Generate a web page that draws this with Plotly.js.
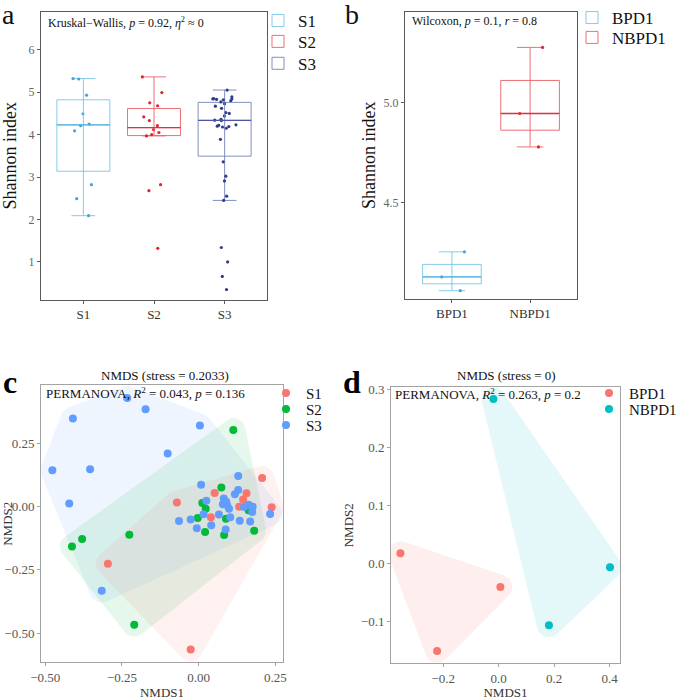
<!DOCTYPE html>
<html>
<head>
<meta charset="utf-8">
<script src="https://cdn.plot.ly/plotly-3.0.1.min.js"></script>
<style>
  html, body { margin: 0; padding: 0; background: #ffffff; }
  #chart { width: 687px; height: 700px; }
</style>
</head>
<body>
<div id="chart"></div>
<script>
// ---------- Shannon index per group (panel a) ----------
const groupsA = ['S1', 'S2', 'S3'];
const shannonS1 = [5.32, 5.31, 4.93, 4.49, 4.25, 4.21, 4.09, 2.82, 2.49, 2.09];
const shannonS2 = [5.36, 4.99, 4.75, 4.68, 4.42, 4.33, 4.21, 4.12, 4.05, 4.00, 3.97, 2.82, 2.68, 1.32];
const shannonS3 = [5.05, 4.89, 4.85, 4.84, 4.84, 4.83, 4.82, 4.80, 4.77, 4.73, 4.67, 4.62, 4.52, 4.50,
                   4.44, 4.36, 4.34, 4.33, 4.23, 4.22, 4.20, 4.19, 4.18, 4.15, 3.89, 3.36, 3.02, 2.91,
                   2.55, 2.45, 1.34, 1.00, 0.66, 0.35];

// ---------- Shannon index per group (panel b) ----------
const groupsB = ['BPD1', 'NBPD1'];
const shannonBPD1 = [4.254, 4.129, 4.060];
const shannonNBPD1 = [5.275, 4.945, 4.778];

// ---------- NMDS ordination of S1/S2/S3 (panel c) ----------
const nmdsS1x = [0.207, 0.052, 0.156, 0.145, -0.071, 0.132, 0.238, 0.040, -0.296, -0.026];
const nmdsS1y = [0.112, 0.053, 0.052, 0.027, 0.015, -0.001, -0.003, -0.043, -0.226, -0.565];
const nmdsS2x = [0.113, 0.074, 0.012, 0.023, -0.003, 0.089, 0.163, 0.021, 0.083, 0.181, -0.413, -0.380, -0.226, -0.210];
const nmdsS2y = [0.302, 0.075, 0.013, -0.009, -0.046, -0.049, -0.015, -0.101, -0.113, -0.096, -0.158, -0.129, -0.112, -0.467];
const nmdsS3x = [-0.233, -0.173, -0.410, 0.004, -0.101, -0.477, -0.354, 0.129, 0.008, 0.129,
                 0.118, 0.082, -0.422, 0.025, 0.079, 0.093, 0.163, 0.176, 0.099, 0.016,
                 0.103, 0.066, 0.175, 0.233, -0.064, -0.026, 0.134, 0.168, -0.006, 0.041,
                 0.088, 0.148, -0.316, 0.090];
const nmdsS3y = [0.428, 0.384, 0.347, 0.319, 0.209, 0.143, 0.147, 0.120, 0.086, 0.065,
                 0.048, 0.031, 0.011, 0.022, 0.009, 0.005, 0.007, -0.001, -0.009, -0.031,
                 -0.043, -0.032, -0.022, -0.030, -0.058, -0.052, -0.057, -0.060, -0.086, -0.074,
                 -0.091, -0.002, -0.333, 0.018];

// ---------- NMDS ordination of BPD1/NBPD1 (panel d) ----------
const nmdsBPD1x = [-0.354, -0.222, 0.006];
const nmdsBPD1y = [0.018, -0.150, -0.040];
const nmdsNBPD1x = [-0.019, 0.401, 0.181];
const nmdsNBPD1y = [0.283, -0.006, -0.106];

// ---------- page geometry ----------
const W = 687, H = 700;
const FONT = 'Liberation Serif, Times New Roman, serif';
const px2x = p => p / W;
const px2y = p => 1 - p / H;

// panel pixel boxes [left, top, right, bottom] and data ranges
const panels = {
  a: { box: [41, 9, 267, 298],  xr: [0.4, 3.6],      yr: [0.11, 6.89] },
  b: { box: [405, 9, 577, 297], xr: [0.4, 2.6],      yr: [4.02, 5.452] },
  c: { box: [41, 384, 283, 662], xr: [-0.514, 0.275], yr: [-0.615, 0.478] },
  d: { box: [391, 386, 620, 663], xr: [-0.388, 0.437], yr: [-0.171, 0.303] }
};

// R type-7 quantile
function quantile(sorted, p) {
  const h = (sorted.length - 1) * p;
  const lo = Math.floor(h), hi = Math.ceil(h);
  return sorted[lo] + (h - lo) * (sorted[hi] - sorted[lo]);
}
function boxStats(values) {
  const s = values.slice().sort((a, b) => a - b);
  const q1 = quantile(s, 0.25), med = quantile(s, 0.5), q3 = quantile(s, 0.75);
  const iqr = q3 - q1;
  const lf = Math.min(...s.filter(v => v >= q1 - 1.5 * iqr));
  const uf = Math.max(...s.filter(v => v <= q3 + 1.5 * iqr));
  return { q1, med, q3, lf, uf };
}

const traces = [];
const BOXW = 0.75;

function addBoxGroup(values, pos, name, col, xa, ya, legendId) {
  const st = boxStats(values);
  traces.push({
    type: 'box', x: [pos], q1: [st.q1], median: [st.med], q3: [st.q3],
    lowerfence: [st.lf], upperfence: [st.uf],
    width: BOXW, whiskerwidth: 0.45, boxpoints: false,
    line: { color: col.box, width: 1 }, fillcolor: 'rgba(255,255,255,0)',
    name: name, legend: legendId, xaxis: xa, yaxis: ya, hoverinfo: 'skip'
  });
  // whisker line continuing through the box
  traces.push({
    type: 'scatter', mode: 'lines', x: [pos, pos], y: [st.q1, st.q3],
    line: { color: col.box, width: 1 }, showlegend: false, hoverinfo: 'skip',
    xaxis: xa, yaxis: ya
  });
  // median bar
  traces.push({
    type: 'scatter', mode: 'lines', x: [pos - BOXW / 2, pos + BOXW / 2], y: [st.med, st.med],
    line: { color: col.median, width: 1.3 }, showlegend: false, hoverinfo: 'skip',
    xaxis: xa, yaxis: ya
  });
  // jittered samples
  traces.push({
    type: 'box', y: values, x0: pos, width: BOXW, boxpoints: 'all', jitter: 0.55, pointpos: 0,
    line: { width: 0, color: 'rgba(0,0,0,0)' }, fillcolor: 'rgba(0,0,0,0)',
    marker: { color: col.point, size: 3.2 }, showlegend: false, name: name,
    xaxis: xa, yaxis: ya
  });
}

const blueCol = { box: 'rgba(120,196,232,0.9)', median: '#55b2de', point: '#3fa6dc' };
const redCol  = { box: 'rgba(236,96,104,0.9)',  median: '#e0303c', point: '#e3232e' };
const navyCol = { box: 'rgba(118,130,186,0.9)', median: '#4a58a0', point: '#2f3d8e' };

addBoxGroup(shannonS1, 1, groupsA[0], blueCol, 'x', 'y', 'legend');
addBoxGroup(shannonS2, 2, groupsA[1], redCol,  'x', 'y', 'legend2');
addBoxGroup(shannonS3, 3, groupsA[2], navyCol, 'x', 'y', 'legend3');
addBoxGroup(shannonBPD1, 1, groupsB[0], blueCol, 'x2', 'y2', 'legend4');
addBoxGroup(shannonNBPD1, 2, groupsB[1], redCol, 'x2', 'y2', 'legend5');

// ---------- rounded, expanded convex hulls (computed in pixel space) ----------
function makeScale(p) {
  const [l, t, r, b] = p.box;
  return {
    toPx: (x, y) => [l + (x - p.xr[0]) / (p.xr[1] - p.xr[0]) * (r - l),
                     b - (y - p.yr[0]) / (p.yr[1] - p.yr[0]) * (b - t)],
    toData: (X, Y) => [p.xr[0] + (X - l) / (r - l) * (p.xr[1] - p.xr[0]),
                       p.yr[0] + (b - Y) / (b - t) * (p.yr[1] - p.yr[0])]
  };
}
function convexHull(pts) {
  const s = pts.slice().sort((a, b) => a[0] - b[0] || a[1] - b[1]);
  const cross = (o, a, b) => (a[0] - o[0]) * (b[1] - o[1]) - (a[1] - o[1]) * (b[0] - o[0]);
  const lower = [], upper = [];
  for (const p of s) {
    while (lower.length >= 2 && cross(lower[lower.length - 2], lower[lower.length - 1], p) <= 0) lower.pop();
    lower.push(p);
  }
  for (let i = s.length - 1; i >= 0; i--) {
    const p = s[i];
    while (upper.length >= 2 && cross(upper[upper.length - 2], upper[upper.length - 1], p) <= 0) upper.pop();
    upper.push(p);
  }
  upper.pop(); lower.pop();
  return lower.concat(upper);
}
function hullTrace(xs, ys, panel, fill, xa, ya, radius) {
  const sc = makeScale(panel);
  const pts = xs.map((x, i) => sc.toPx(x, ys[i]));
  const hull = convexHull(pts);
  const n = hull.length;
  const cx = hull.reduce((a, p) => a + p[0], 0) / n, cy = hull.reduce((a, p) => a + p[1], 0) / n;
  const normalOf = (a, b) => {
    let nx = b[1] - a[1], ny = -(b[0] - a[0]);
    const len = Math.hypot(nx, ny); nx /= len; ny /= len;
    const mx = (a[0] + b[0]) / 2, my = (a[1] + b[1]) / 2;
    if ((mx - cx) * nx + (my - cy) * ny < 0) { nx = -nx; ny = -ny; }
    return Math.atan2(ny, nx);
  };
  const outX = [], outY = [];
  for (let i = 0; i < n; i++) {
    const prev = hull[(i - 1 + n) % n], cur = hull[i], next = hull[(i + 1) % n];
    const a1 = normalOf(prev, cur), a2 = normalOf(cur, next);
    let d = a2 - a1;
    while (d > Math.PI) d -= 2 * Math.PI;
    while (d <= -Math.PI) d += 2 * Math.PI;
    const steps = 14;
    for (let k = 0; k <= steps; k++) {
      const a = a1 + d * k / steps;
      const dp = sc.toData(cur[0] + radius * Math.cos(a), cur[1] + radius * Math.sin(a));
      outX.push(dp[0]); outY.push(dp[1]);
    }
  }
  outX.push(outX[0]); outY.push(outY[0]);
  return {
    type: 'scatter', mode: 'lines', x: outX, y: outY, fill: 'toself', fillcolor: fill,
    line: { width: 0, color: 'rgba(0,0,0,0)' }, showlegend: false, hoverinfo: 'skip',
    xaxis: xa, yaxis: ya
  };
}

const cS1 = '#F8766D', cS2 = '#00BA38', cS3 = '#619CFF', cNB = '#00BFC4';
const HR = 12;
traces.push(hullTrace(nmdsS3x, nmdsS3y, panels.c, 'rgba(97,156,255,0.1)', 'x3', 'y3', HR));
traces.push(hullTrace(nmdsS2x, nmdsS2y, panels.c, 'rgba(0,186,56,0.1)', 'x3', 'y3', HR));
traces.push(hullTrace(nmdsS1x, nmdsS1y, panels.c, 'rgba(248,118,109,0.1)', 'x3', 'y3', HR));
traces.push(hullTrace(nmdsBPD1x, nmdsBPD1y, panels.d, 'rgba(248,118,109,0.12)', 'x4', 'y4', HR));
traces.push(hullTrace(nmdsNBPD1x, nmdsNBPD1y, panels.d, 'rgba(0,191,196,0.1)', 'x4', 'y4', HR));

function pointTrace(xs, ys, name, color, xa, ya, legendId) {
  return {
    type: 'scatter', mode: 'markers', x: xs, y: ys, name: name,
    marker: { color: color, size: 8 }, xaxis: xa, yaxis: ya, legend: legendId
  };
}
traces.push(pointTrace(nmdsS1x, nmdsS1y, 'S1', cS1, 'x3', 'y3', 'legend6'));
traces.push(pointTrace(nmdsS2x, nmdsS2y, 'S2', cS2, 'x3', 'y3', 'legend7'));
traces.push(pointTrace(nmdsS3x, nmdsS3y, 'S3', cS3, 'x3', 'y3', 'legend8'));
traces.push(pointTrace(nmdsBPD1x, nmdsBPD1y, 'BPD1', cS1, 'x4', 'y4', 'legend9'));
traces.push(pointTrace(nmdsNBPD1x, nmdsNBPD1y, 'NBPD1', cNB, 'x4', 'y4', 'legend10'));

// ---------- axes ----------
function xAxis(p, extra) {
  return Object.assign({
    domain: [px2x(p.box[0]), px2x(p.box[2])], range: p.xr, autorange: false,
    showgrid: false, zeroline: false, showline: true, mirror: true,
    ticks: 'outside', ticklen: 3, tickwidth: 1, automargin: false, fixedrange: true
  }, extra);
}
function yAxis(p, extra) {
  return Object.assign({
    domain: [px2y(p.box[3]), px2y(p.box[1])], range: p.yr, autorange: false,
    showgrid: false, zeroline: false, showline: true, mirror: true,
    ticks: 'outside', ticklen: 3, tickwidth: 1, automargin: false, fixedrange: true
  }, extra);
}
const darkFrame = { linecolor: '#5a5a5a', tickcolor: '#5a5a5a' };
const lightFrame = { linecolor: '#a3a3a3', tickcolor: '#a3a3a3' };

const layout = {
  width: W, height: H,
  margin: { l: 0, r: 0, t: 0, b: 0 },
  paper_bgcolor: '#ffffff', plot_bgcolor: '#ffffff',
  font: { family: FONT, color: '#222' },
  boxmode: 'overlay',
  xaxis: xAxis(panels.a, Object.assign({}, darkFrame, {
    tickvals: [1, 2, 3], ticktext: groupsA, tickfont: { size: 13, color: '#333' }, anchor: 'y'
  })),
  yaxis: yAxis(panels.a, Object.assign({}, darkFrame, {
    tickvals: [1, 2, 3, 4, 5, 6], tickfont: { size: 12, color: '#666' }, anchor: 'x',
    title: { text: 'Shannon index', font: { size: 18, color: '#111' }, standoff: 8 }
  })),
  xaxis2: xAxis(panels.b, Object.assign({}, darkFrame, {
    tickvals: [1, 2], ticktext: groupsB, tickfont: { size: 13, color: '#333' }, anchor: 'y2'
  })),
  yaxis2: yAxis(panels.b, Object.assign({}, darkFrame, {
    tickvals: [4.5, 5.0], tickformat: '.1f', tickfont: { size: 12, color: '#666' }, anchor: 'x2',
    title: { text: 'Shannon index', font: { size: 18, color: '#111' }, standoff: 3 }
  })),
  xaxis3: xAxis(panels.c, Object.assign({}, lightFrame, {
    tickvals: [-0.5, -0.25, 0, 0.25], tickformat: '.2f', tickfont: { size: 13, color: '#555' }, anchor: 'y3',
    title: { text: 'NMDS1', font: { size: 13, color: '#333' }, standoff: 4 }
  })),
  yaxis3: yAxis(panels.c, Object.assign({}, lightFrame, {
    tickvals: [-0.5, -0.25, 0, 0.25], tickformat: '.2f', tickfont: { size: 13, color: '#555' }, anchor: 'x3',
    title: { text: 'NMDS2', font: { size: 13, color: '#333' }, standoff: 4 }
  })),
  xaxis4: xAxis(panels.d, Object.assign({}, lightFrame, {
    tickvals: [-0.2, 0, 0.2, 0.4], tickformat: '.1f', tickfont: { size: 13, color: '#555' }, anchor: 'y4',
    title: { text: 'NMDS1', font: { size: 13, color: '#333' }, standoff: 4 }
  })),
  yaxis4: yAxis(panels.d, Object.assign({}, lightFrame, {
    tickvals: [-0.1, 0, 0.1, 0.2, 0.3], tickformat: '.1f', tickfont: { size: 13, color: '#555' }, anchor: 'x4',
    title: { text: 'NMDS2', font: { size: 13, color: '#333' }, standoff: 4 }
  })),
  annotations: [],
  showlegend: true
};

// one legend per entry so each row sits where it belongs
function legendAt(xpx, ypx, size) {
  return {
    x: px2x(xpx), y: px2y(ypx), xanchor: 'left', yanchor: 'middle',
    bgcolor: 'rgba(0,0,0,0)', borderwidth: 0, font: { size: size, color: '#111', family: FONT },
    itemclick: false, itemdoubleclick: false
  };
}
layout.legend   = legendAt(258, 18, 17);
layout.legend2  = legendAt(258, 39, 17);
layout.legend3  = legendAt(258, 61, 17);
layout.legend4  = legendAt(572, 15, 17);
layout.legend5  = legendAt(572, 35, 17);
layout.legend6  = legendAt(266, 392, 15);
layout.legend7  = legendAt(266, 408, 15);
layout.legend8  = legendAt(266, 424, 15);
layout.legend9  = legendAt(589, 392, 15);
layout.legend10 = legendAt(589, 408, 15);

function note(text, xpx, ypx, size, opts) {
  return Object.assign({
    xref: 'paper', yref: 'paper', x: px2x(xpx), y: px2y(ypx), text: text, showarrow: false,
    xanchor: 'left', yanchor: 'middle', font: { family: FONT, size: size, color: '#111' }
  }, opts || {});
}
layout.annotations.push(
  note('a', 0, 0, 28, { yanchor: 'top', yshift: 6 }),
  note('b', 343, 0, 28, { yanchor: 'top', yshift: 6 }),
  note('c', 1, 381, 32, { font: { family: FONT, size: 32, color: '#000', weight: 'bold' } }),
  note('d', 341, 381, 32, { font: { family: FONT, size: 32, color: '#000', weight: 'bold' } }),
  note('Kruskal−Wallis, <i>p</i> = 0.92, <i>η</i><sup>2</sup> ≈ 0', 46, 20, 12),
  note('Wilcoxon, <i>p</i> = 0.1, <i>r</i> = 0.8', 410, 18, 12),
  note('PERMANOVA, <i>R</i><sup>2</sup> = 0.043, <i>p</i> = 0.136', 44, 392, 13),
  note('PERMANOVA, <i>R</i><sup>2</sup> = 0.263, <i>p</i> = 0.2', 393, 393, 13),
  note('NMDS (stress = 0.2033)', 165, 374, 13, { xanchor: 'center' }),
  note('NMDS (stress = 0)', 506, 374, 13, { xanchor: 'center' })
);

Plotly.newPlot('chart', traces, layout, { staticPlot: true, displayModeBar: false });
</script>
</body>
</html>
